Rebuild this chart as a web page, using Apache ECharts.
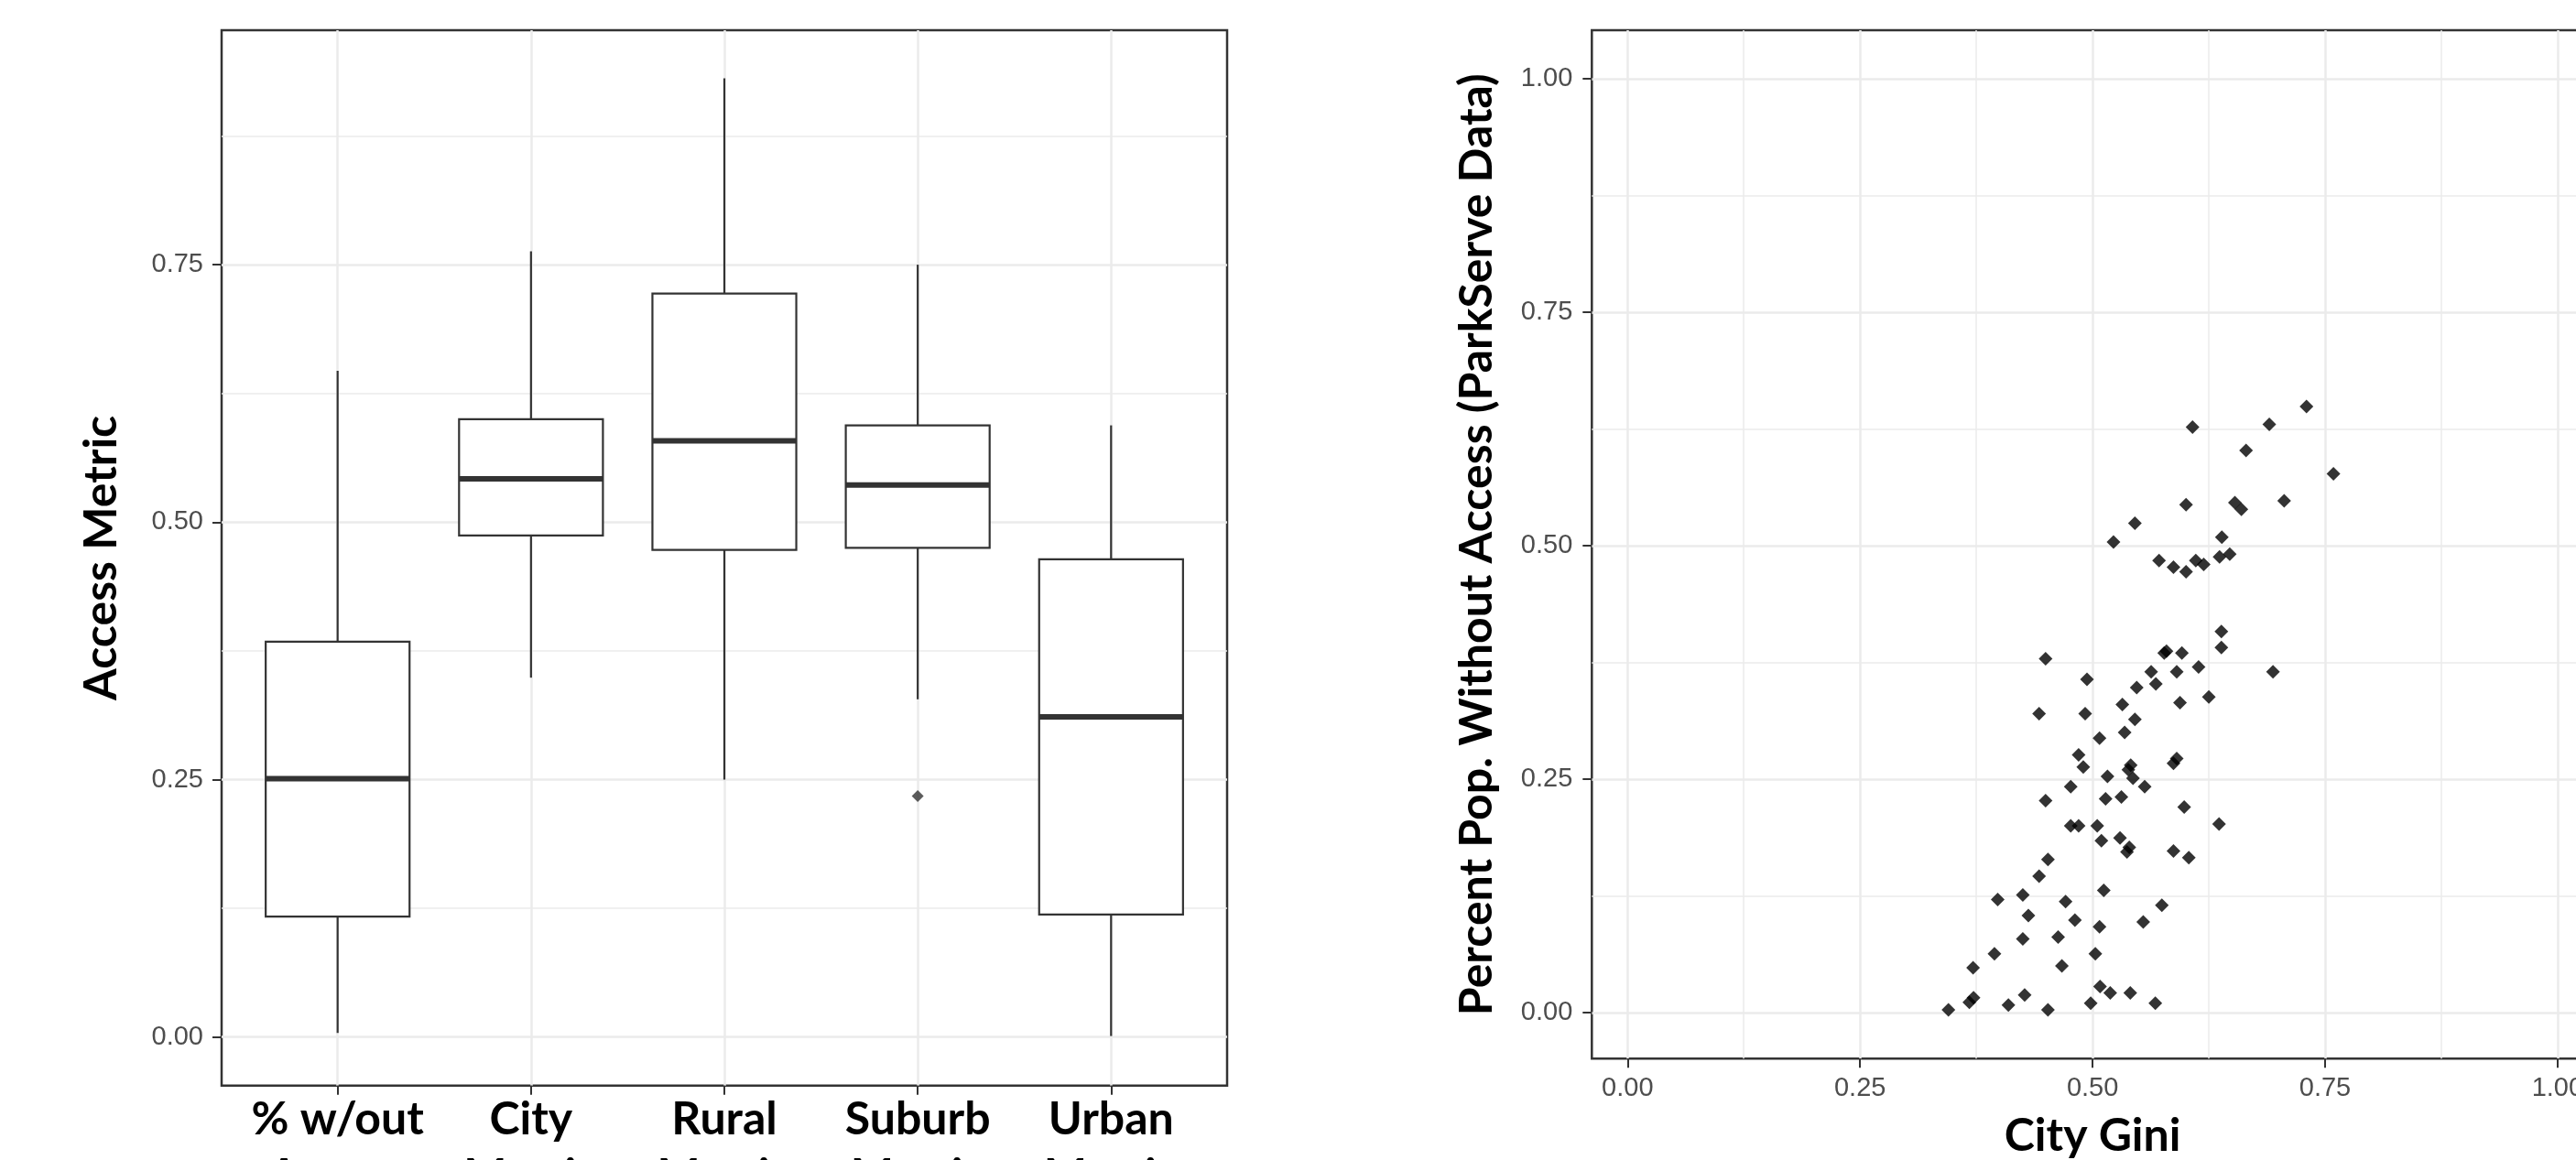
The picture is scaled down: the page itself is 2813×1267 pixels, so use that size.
<!DOCTYPE html>
<html>
<head>
<meta charset="utf-8">
<script src="https://cdn.jsdelivr.net/npm/echarts@6/dist/echarts.min.js"></script>
<style>
html,body{margin:0;padding:0;background:#fff;}
#chart{width:2813px;height:1267px;}
</style>
</head>
<body>
<div id="chart"></div>
<script>
// ---------- data: left panel (box plots) ----------
const boxCategories = ['% w/out', 'City', 'Rural', 'Suburb', 'Urban'];
const boxSubLabels  = ['Access', 'Metric', 'Metric', 'Metric', 'Metric'];
const whiskerLow  = [0.004, 0.349, 0.250, 0.328, 0.001];
const quartile1   = [0.117, 0.487, 0.473, 0.475, 0.119];
const medians     = [0.251, 0.542, 0.579, 0.536, 0.311];
const quartile3   = [0.384, 0.600, 0.722, 0.594, 0.464];
const whiskerHigh = [0.647, 0.763, 0.931, 0.750, 0.594];
const outlierCategory = ['Suburb'];
const outlierValues   = [0.234];
const accessTicks      = [0, 0.25, 0.5, 0.75];
const accessMinorTicks = [0.125, 0.375, 0.625, 0.875];

// ---------- data: right panel (scatter) ----------
const cityGini = [
  0.345, 0.3675, 0.372, 0.3715, 0.4095, 0.427, 0.452, 0.3945, 0.398, 0.425,
  0.431, 0.425, 0.467, 0.463, 0.471, 0.481, 0.4425, 0.452, 0.4495, 0.4495,
  0.4425, 0.4765, 0.4765, 0.485, 0.485, 0.490, 0.494, 0.492, 0.5075, 0.505,
  0.5095, 0.512, 0.5075, 0.503, 0.498, 0.508, 0.519, 0.5405, 0.5675, 0.5545,
  0.5745, 0.516, 0.514, 0.531, 0.5295, 0.537, 0.5395, 0.5385, 0.541, 0.5435,
  0.556, 0.5345, 0.532, 0.5455, 0.5475, 0.563, 0.568, 0.577, 0.5795, 0.5905,
  0.596, 0.594, 0.587, 0.5905, 0.5985, 0.587, 0.6035, 0.614, 0.625, 0.6385,
  0.6385, 0.636, 0.5225, 0.5455, 0.5715, 0.587, 0.6005, 0.611, 0.6195, 0.6005,
  0.6075, 0.6365, 0.6475, 0.639, 0.653, 0.660, 0.665, 0.690, 0.730, 0.759,
  0.706, 0.694
];
const pctWithoutAccess = [
  0.003, 0.011, 0.016, 0.048, 0.008, 0.019, 0.003, 0.063, 0.121, 0.126,
  0.104, 0.079, 0.050, 0.081, 0.119, 0.099, 0.146, 0.164, 0.227, 0.379,
  0.320, 0.242, 0.200, 0.200, 0.276, 0.263, 0.357, 0.320, 0.294, 0.200,
  0.184, 0.131, 0.092, 0.063, 0.010, 0.028, 0.021, 0.021, 0.010, 0.097,
  0.115, 0.253, 0.229, 0.231, 0.187, 0.172, 0.177, 0.260, 0.265, 0.251,
  0.242, 0.300, 0.330, 0.314, 0.348, 0.365, 0.352, 0.385, 0.387, 0.365,
  0.385, 0.332, 0.267, 0.272, 0.220, 0.173, 0.166, 0.370, 0.338, 0.408,
  0.391, 0.202, 0.504, 0.524, 0.484, 0.477, 0.472, 0.484, 0.480, 0.544,
  0.627, 0.488, 0.491, 0.509, 0.546, 0.539, 0.602, 0.630, 0.649, 0.577,
  0.548, 0.365
];
const giniTicks      = [0, 0.25, 0.5, 0.75, 1];
const giniMinorTicks = [0.125, 0.375, 0.625, 0.875];

// ---------- build chart ----------
const boxPositions = boxCategories.map((c, i) => i + 1);
const boxData = boxCategories.map((c, i) =>
  [i + 1, whiskerLow[i], quartile1[i], medians[i], quartile3[i], whiskerHigh[i]]);
const outlierData = outlierCategory.map((c, i) =>
  [boxCategories.indexOf(c) + 1, outlierValues[i]]);
const scatterData = cityGini.map((g, i) => [g, pctWithoutAccess[i]]);

const BOX_WIDTH = 0.744; // in category units
const INK = '#333333';
const tickFont = { fontFamily: 'Liberation Sans', fontSize: 29, color: '#4D4D4D' };
const titleFont = { fontFamily: 'Lato', fontWeight: 'bold', fontSize: 50, color: '#000' };
const majorGrid = { show: true, lineStyle: { color: '#EBEBEB', width: 2.5 } };
const minorGrid = { show: true, lineStyle: { color: '#EBEBEB', width: 1.5 } };
const tickStyle = { show: true, length: 10, inside: false, lineStyle: { color: INK, width: 2 } };
const noLine = { show: false, onZero: false };
const fmt2 = v => v.toFixed(2);

function minorAxis(gridIndex, min, max, values) {
  return {
    gridIndex, type: 'value', min, max,
    axisLine: noLine,
    axisTick: { show: false, customValues: values },
    axisLabel: { show: false, customValues: values },
    splitLine: minorGrid
  };
}

const gridCommon = {
  show: true, backgroundColor: '#fff', borderColor: INK, borderWidth: 2.5,
  containLabel: false, outerBoundsMode: 'none'
};

const option = {
  animation: false,
  backgroundColor: '#fff',
  grid: [
    Object.assign({ left: 242, top: 33, width: 1098, height: 1152.7 }, gridCommon),
    Object.assign({ left: 1738.3, top: 33, width: 1093.6, height: 1123.3 }, gridCommon)
  ],
  xAxis: [
    {
      gridIndex: 0, type: 'value', min: 0.4, max: 5.6, position: 'bottom',
      axisLine: noLine,
      axisTick: Object.assign({ customValues: boxPositions }, tickStyle),
      axisLabel: {
        customValues: boxPositions,
        formatter: v => boxCategories[Math.round(v) - 1] + '\n' + boxSubLabels[Math.round(v) - 1],
        margin: 6, lineHeight: 62,
        fontFamily: 'Lato', fontWeight: 'bold', fontSize: 50, color: '#000'
      },
      splitLine: majorGrid
    },
    {
      gridIndex: 1, type: 'value', min: -0.0384, max: 1.0384, position: 'bottom',
      axisLine: noLine,
      axisTick: Object.assign({ customValues: giniTicks }, tickStyle),
      axisLabel: Object.assign({ customValues: giniTicks, formatter: fmt2, margin: 18 }, tickFont),
      splitLine: majorGrid,
      name: 'City Gini', nameLocation: 'middle', nameGap: 60, nameMoveOverlap: false,
      nameTextStyle: titleFont
    },
    minorAxis(1, -0.0384, 1.0384, giniMinorTicks)
  ],
  yAxis: [
    {
      gridIndex: 0, type: 'value', min: -0.0471, max: 0.9777, position: 'left',
      axisLine: noLine,
      axisTick: Object.assign({ customValues: accessTicks }, tickStyle),
      axisLabel: Object.assign({ customValues: accessTicks, formatter: fmt2, margin: 20 }, tickFont),
      splitLine: majorGrid,
      name: 'Access Metric', nameLocation: 'middle', nameGap: 106, nameRotate: 90,
      nameMoveOverlap: false, nameTextStyle: titleFont
    },
    minorAxis(0, -0.0471, 0.9777, accessMinorTicks),
    {
      gridIndex: 1, type: 'value', min: -0.0493, max: 1.052, position: 'left',
      axisLine: noLine,
      axisTick: Object.assign({ customValues: giniTicks }, tickStyle),
      axisLabel: Object.assign({ customValues: giniTicks, formatter: fmt2, margin: 21 }, tickFont),
      splitLine: majorGrid,
      name: 'Percent Pop. Without Access (ParkServe Data)', nameLocation: 'middle',
      nameGap: 100, nameRotate: 90, nameMoveOverlap: false, nameTextStyle: titleFont
    },
    minorAxis(1, -0.0493, 1.052, giniMinorTicks)
  ],
  series: [
    {
      type: 'custom', xAxisIndex: 0, yAxisIndex: 0, silent: true, z: 3,
      data: boxData,
      encode: { x: 0, y: [1, 2, 3, 4, 5] },
      renderItem: function (params, api) {
        const x = api.value(0);
        const pLo = api.coord([x, api.value(1)]);
        const pQ1 = api.coord([x, api.value(2)]);
        const pMed = api.coord([x, api.value(3)]);
        const pQ3 = api.coord([x, api.value(4)]);
        const pHi = api.coord([x, api.value(5)]);
        const half = api.size([BOX_WIDTH, 0])[0] / 2;
        const thin = { stroke: INK, lineWidth: 2.2, fill: null };
        return {
          type: 'group',
          children: [
            { type: 'line', shape: { x1: pHi[0], y1: pHi[1], x2: pQ3[0], y2: pQ3[1] }, style: thin },
            { type: 'line', shape: { x1: pQ1[0], y1: pQ1[1], x2: pLo[0], y2: pLo[1] }, style: thin },
            { type: 'rect', shape: { x: pQ3[0] - half, y: pQ3[1], width: half * 2, height: pQ1[1] - pQ3[1] },
              style: { fill: '#fff', stroke: INK, lineWidth: 2.2 } },
            { type: 'line', shape: { x1: pMed[0] - half, y1: pMed[1], x2: pMed[0] + half, y2: pMed[1] },
              style: { stroke: INK, lineWidth: 6 } }
          ]
        };
      }
    },
    {
      type: 'scatter', xAxisIndex: 0, yAxisIndex: 0, silent: true, z: 4,
      data: outlierData, symbol: 'diamond', symbolSize: 13,
      itemStyle: { color: INK }
    },
    {
      type: 'scatter', xAxisIndex: 1, yAxisIndex: 2, silent: true, z: 4,
      data: scatterData, symbol: 'diamond', symbolSize: 15,
      itemStyle: { color: '#000' }
    }
  ]
};

const chart = echarts.init(document.getElementById('chart'), null, { renderer: 'canvas', width: 2813, height: 1267 });
chart.setOption(option);
</script>
</body>
</html>
